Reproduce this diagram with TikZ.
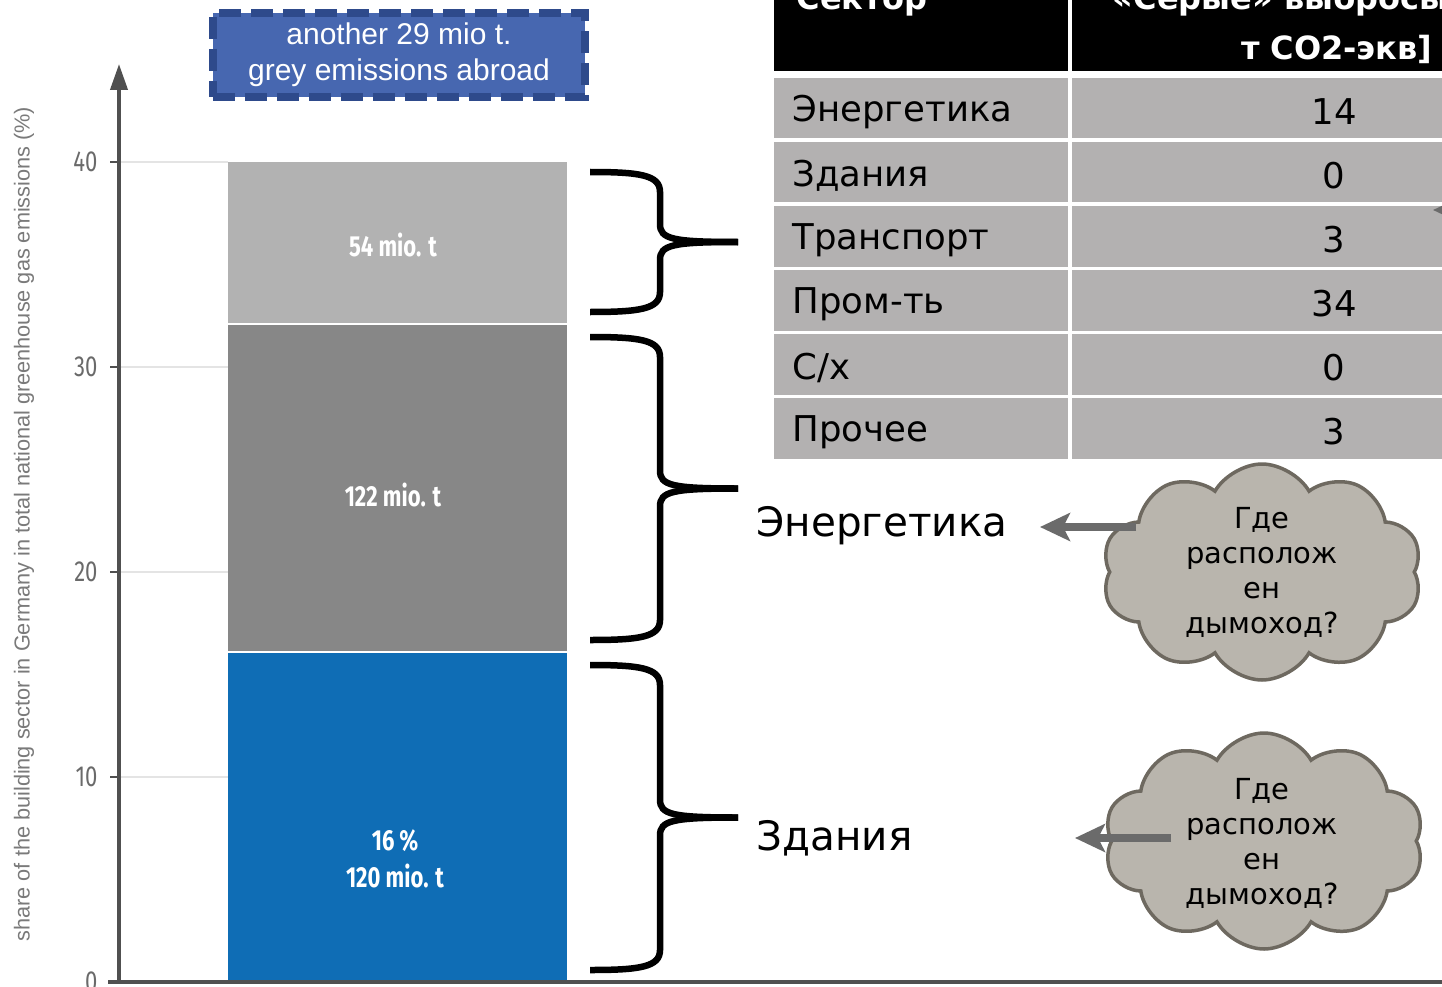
\documentclass[tikz,border=0pt]{standalone}
\usepackage{fontspec}
\setmainfont{DejaVu Sans}
\newfontfamily\condfont[FakeStretch=0.76]{Fira Sans}
\newfontfamily\arialfont{Liberation Sans}
\newfontfamily\gothfont{DejaVu Sans}
\usetikzlibrary{arrows.meta,shapes.symbols}

\definecolor{barblue}{HTML}{0F6DB5}
\definecolor{bardark}{HTML}{878787}
\definecolor{barlight}{HTML}{B2B2B2}
\definecolor{boxfill}{HTML}{4767B0}
\definecolor{boxedge}{HTML}{2E4A8B}
\definecolor{cellgray}{HTML}{B3B1B1}
\definecolor{cloudfill}{HTML}{B9B5AD}
\definecolor{cloudedge}{HTML}{6E6960}
\definecolor{arrowgray}{HTML}{6B6B6B}
\definecolor{axisgray}{HTML}{505050}
\definecolor{gridgray}{HTML}{E4E4E4}
\definecolor{ticktext}{HTML}{6A6A6A}
\definecolor{labelgray}{HTML}{7A7A7A}

\tikzset{
  barlabel/.style={text=white, font=\condfont\bfseries\fontsize{29}{34}\selectfont, align=center},
  ticklabel/.style={text=ticktext, font=\condfont\fontsize{29}{32}\selectfont, anchor=east},
  brace/.style={line width=6.5pt, black, line cap=butt},
  celltext/.style={font=\gothfont\fontsize{35.5}{40}\selectfont, text=black},
  headtext/.style={font=\gothfont\bfseries\fontsize{32}{46}\selectfont, text=white},
  sidelabel/.style={font=\gothfont\fontsize{40.5}{46}\selectfont, text=black, anchor=west},
  thought/.style={cloud, cloud puffs=10, cloud puff arc=120, aspect=1.45,
    fill=cloudfill, draw=cloudedge, line width=3.5pt, minimum width=320pt, minimum height=216pt},
  cloudtext/.style={font=\gothfont\fontsize{29}{35}\selectfont, align=center, text=black},
  pointer/.style={draw=arrowgray, line width=8pt,
    -{Stealth[length=30pt, width=28pt, inset=7pt, fill=arrowgray]}},
}

\begin{document}
\begin{tikzpicture}[x=1pt, y=-1pt]
\useasboundingbox (0,0) rectangle (1442,987);
\clip (0,0) rectangle (1442,987);
\fill[white] (0,0) rectangle (1442,987);

% grid lines and ticks
\foreach \v/\yy in {40/162, 30/367, 20/572, 10/777} {
  \draw[gridgray, line width=1.5pt] (119,\yy) -- (228,\yy);
}
\foreach \v/\yy in {40/162, 30/367, 20/572, 10/777, 0/982} {
  \draw[axisgray, line width=2.5pt] (110,\yy) -- (119,\yy);
  \node[ticklabel] (tick\v) at (101,\yy) {\v};
}

% stacked bar
\fill[barblue]  (228,653) rectangle (567,982);
\fill[bardark]  (228,325) rectangle (567,651);
\fill[barlight] (228,162) rectangle (567,323);
\node[barlabel] (lab54) at (393,245) {54 mio. t};
\node[barlabel] (lab122) at (393,495) {122 mio. t};
\node[barlabel, font=\condfont\bfseries\fontsize{29}{37}\selectfont] (lab120) at (395,859) {16\,\%\\120 mio. t};

% axes
\coordinate (origin) at (119,982);
\coordinate (ytop) at (119,64);
\coordinate (xend) at (1450,982);
\draw[axisgray, line width=4pt, -{Triangle[length=26pt, width=17pt]}] (origin) -- (ytop);
\draw[axisgray, line width=3.5pt] (108,982) -- (xend);

% axis title
\node[rotate=90, text=labelgray, font=\arialfont\fontsize{21.7}{24}\selectfont] (ytitle) at (24,524)
  {share of the building sector in Germany in total national greenhouse gas emissions (\%)};

% dashed box above the bar
\node[draw=boxedge, fill=boxfill, line width=8pt, dash pattern=on 22pt off 10pt,
      minimum width=372pt, minimum height=84pt, inner sep=0pt, align=center,
      text=white, font=\arialfont\fontsize{30}{36}\selectfont] (abroad) at (399,55)
  {another 29 mio t.\\grey emissions abroad};

% braces
\foreach \ta/\tb in {172/312, 337/640, 665/970} {
  \pgfmathsetmacro{\tm}{(\ta+\tb)/2}
  \draw[brace] (590,\ta) .. controls (640,\ta) and (660,\ta+3) .. (660,\ta+20)
     -- (660,\tm-18) .. controls (660,\tm-3) and (672,\tm) .. (738,\tm);
  \draw[brace] (738,\tm) .. controls (672,\tm) and (660,\tm+3) .. (660,\tm+18)
     -- (660,\tb-20) .. controls (660,\tb-3) and (640,\tb) .. (590,\tb);
}

% table
\fill[black] (774,-40) rectangle (1068,71);
\fill[black] (1072,-40) rectangle (1500,71);
\node[headtext, anchor=base west] (hsec) at (793,10) {Сектор};
\node[headtext, anchor=base east] (hval1) at (1452,10) {«Серые» выбросы};
\node[headtext, anchor=base east] (hval2) at (1436,60) {т CO2-экв]};
\foreach \i/\name/\val in {0/Энергетика/14, 1/Здания/0, 2/Транспорт/3, 3/Пром-ть/34, 4/С\slash х/0, 5/Прочее/3} {
  \pgfmathsetmacro{\rtop}{78+64*\i}
  \pgfmathsetmacro{\rmid}{\rtop+34}
  \fill[cellgray] (774,\rtop) rectangle (1068,\rtop+60.5);
  \fill[cellgray] (1072,\rtop) rectangle (1500,\rtop+60.5);
  \node[celltext, anchor=west] (row\i) at (789,\rmid) {\name};
  \node[celltext] (val\i) at (1334,\rmid) {\val};
}
\coordinate (offR) at (1520,210);
\coordinate (tipR) at (1433,210);
\draw[pointer] (offR) -- (tipR);

% clouds
\node[thought] (cl1) at (1262,572) {};
\node[thought] (cl2) at (1264,841) {};
\node[cloudtext] (q1) at (1262,572) {Где\\располож\\ен\\дымоход?};
\node[cloudtext] (q2) at (1262,843) {Где\\располож\\ен\\дымоход?};

% side labels and arrows
\node[sidelabel] (lblE) at (753,526) {Энергетика};
\node[sidelabel] (lblB) at (753,838) {Здания};
\coordinate (s1) at (1136,527);
\coordinate (e1) at (1040,527);
\coordinate (s2) at (1171,838);
\coordinate (e2) at (1075,838);
\draw[pointer] (s1) -- (e1);
\draw[pointer] (s2) -- (e2);
\end{tikzpicture}
\end{document}
